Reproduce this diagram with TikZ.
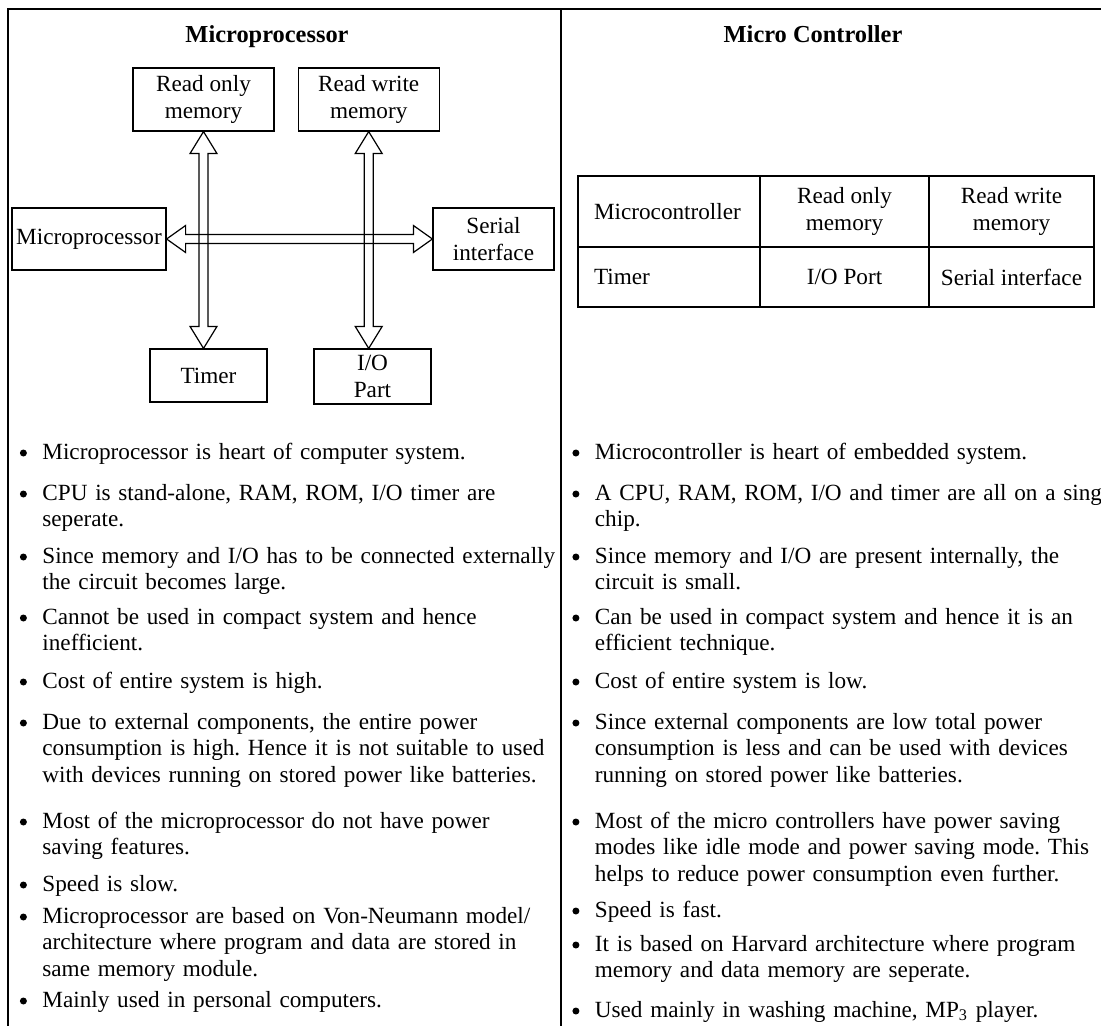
\documentclass[tikz,border=0pt]{standalone}
\usepackage{fontspec}
\setmainfont{Liberation Serif}
\usepackage{tikz}
\usetikzlibrary{calc,positioning}
\frenchspacing

% hollow double headed bus arrows (vertical / horizontal)
\newcommand{\busv}[2]{%
  \draw[bus] (#1) -- ($(#1)+(13.5,22)$) -- ($(#1)+(4.5,22)$) -- ($(#2)+(4.5,-22)$)
    -- ($(#2)+(13.5,-22)$) -- (#2) -- ($(#2)+(-13.5,-22)$) -- ($(#2)+(-4.5,-22)$)
    -- ($(#1)+(-4.5,22)$) -- ($(#1)+(-13.5,22)$) -- cycle;}
\newcommand{\bush}[2]{%
  \draw[bus] (#1) -- ($(#1)+(19,-13.5)$) -- ($(#1)+(19,-4.5)$) -- ($(#2)+(-19,-4.5)$)
    -- ($(#2)+(-19,-13.5)$) -- (#2) -- ($(#2)+(-19,13.5)$) -- ($(#2)+(-19,4.5)$)
    -- ($(#1)+(19,4.5)$) -- ($(#1)+(19,13.5)$) -- cycle;}
\newcommand{\dotmark}{\llap{\tikz[baseline=-3pt]\fill (0,0) circle[radius=1.75pt];\hspace{7.75pt}}}

\begin{document}
\begin{tikzpicture}[x=0.5pt,y=-0.5pt,
  font=\fontsize{11.6pt}{13.25pt}\selectfont,
  box/.style={draw,line width=0.6pt,align=center,inner sep=1pt},
  cell/.style={draw,line width=0.8pt,outer sep=0pt,minimum height=35.5pt,align=center},
  title/.style={anchor=base,font=\fontsize{12.2pt}{14pt}\selectfont\bfseries},
  item/.style={anchor=base west,inner sep=0pt,text width=300pt,align=left,
    execute at begin node=\dotmark},
  bus/.style={line width=0.6pt}]
  \useasboundingbox (0,0) rectangle (1101,1026);
  % frame
  \draw[line width=1pt] (8,1026) -- (8,9.5) -- (1101,9.5);
  \draw[line width=0.8pt] (561,9.5) -- (561,1026);

  \node[title] (tl) at (267,43) {Microprocessor};
  \node[title] (tr) at (813,43) {Micro Controller};

  % microprocessor: separate chips
  \node[box,minimum width=70.5pt,minimum height=31.5pt] (rom) at (203.5,99.5) {Read only\\memory};
  \node[box,minimum width=70.5pt,minimum height=31.5pt,right=11.5pt of rom] (rwm) {Read write\\memory};
  \node[box,minimum width=77pt,minimum height=31pt] (mp) at (89,239) {Microprocessor};
  \node[box,minimum width=60.5pt,minimum height=31pt] (serial) at (493.5,239) {Serial\\interface};
  \node[box,minimum width=58.5pt,minimum height=26.5pt] (timer) at (208.5,375.5) {Timer};
  \node[box,minimum width=58.5pt,minimum height=27.5pt] (io) at (372.5,376.5) {I/O\\Part};
  \coordinate (tmrtop) at (rom.south |- timer.north);
  \coordinate (iotop) at (rwm.south |- io.north);
  \busv{rom.south}{tmrtop}
  \busv{rwm.south}{iotop}
  \bush{mp.east}{serial.west}

  % microcontroller: everything on one chip
  \node[cell,minimum width=91pt,text width=75pt,inner xsep=8pt,align=left] (c11) at (669,211.5) {Microcontroller};
  \node[cell,minimum width=84.5pt,right=0pt of c11] (c12) {Read only\\memory};
  \node[cell,minimum width=82.5pt,right=0pt of c12] (c13) {Read write\\memory};
  \node[cell,minimum height=30pt,minimum width=91pt,text width=75pt,inner xsep=8pt,align=left,below=0pt of c11] (c21) {Timer};
  \node[cell,minimum height=30pt,minimum width=84.5pt,below=0pt of c12] (c22) {I/O Port};
  \node[cell,minimum height=30pt,minimum width=82.5pt,below=0pt of c13] (c23) {Serial interface};

  % comparison, left column
  \node[item] (l1) at (42,459) {Microprocessor is heart of computer system.};
  \node[item] (l2) at (42,500) {CPU is stand-alone, RAM, ROM, I/O timer are\\seperate.};
  \node[item] (l3) at (42,563) {Since memory and I/O has to be connected externally\\the circuit becomes large.};
  \node[item] (l4) at (42,624) {Cannot be used in compact system and hence\\inefficient.};
  \node[item] (l5) at (42,688) {Cost of entire system is high.};
  \node[item] (l6) at (42,729) {Due to external components, the entire power\\consumption is high. Hence it is not suitable to used\\with devices running on stored power like batteries.};
  \node[item] (l7) at (42,828) {Most of the microprocessor do not have power\\saving features.};
  \node[item] (l8) at (42,891) {Speed is slow.};
  \node[item] (l9) at (42,923) {Microprocessor are based on Von-Neumann model/\\architecture where program and data are stored in\\same memory module.};
  \node[item] (l10) at (42,1007) {Mainly used in personal computers.};

  % comparison, right column
  \node[item] (r1) at (594.5,459) {Microcontroller is heart of embedded system.};
  \node[item] (r2) at (594.5,500) {A CPU, RAM, ROM, I/O and timer are all on a single\\chip.};
  \node[item] (r3) at (594.5,563) {Since memory and I/O are present internally, the\\circuit is small.};
  \node[item] (r4) at (594.5,624) {Can be used in compact system and hence it is an\\efficient technique.};
  \node[item] (r5) at (594.5,688) {Cost of entire system is low.};
  \node[item] (r6) at (594.5,729) {Since external components are low total power\\consumption is less and can be used with devices\\running on stored power like batteries.};
  \node[item] (r7) at (594.5,828) {Most of the micro controllers have power saving\\modes like idle mode and power saving mode. This\\helps to reduce power consumption even further.};
  \node[item] (r8) at (594.5,917) {Speed is fast.};
  \node[item] (r9) at (594.5,951) {It is based on Harvard architecture where program\\memory and data memory are seperate.};
  \node[item] (r10) at (594.5,1017) {Used mainly in washing machine, MP\textsubscript{3} player.};
\end{tikzpicture}
\end{document}
